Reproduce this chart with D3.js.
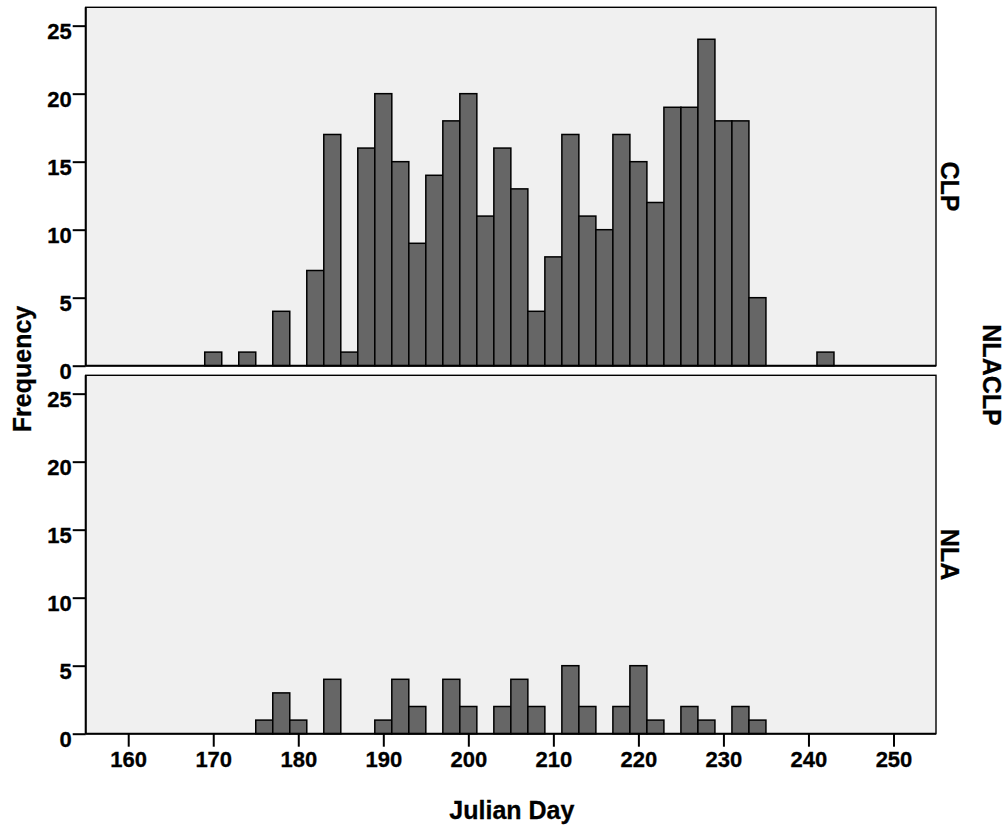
<!DOCTYPE html>
<html><head><meta charset="utf-8">
<script src="https://cdn.jsdelivr.net/npm/d3@7"></script>
<style>
body{margin:0;background:#fff;}
svg{display:block;font-family:"Liberation Sans",Arial,sans-serif;font-weight:bold;}
</style></head>
<body><svg id="c" width="1008" height="829"></svg>
<script>
const binStarts = [169,171,173,175,177,179,181,183,185,187,189,191,193,195,197,199,201,203,205,207,209,211,213,215,217,219,221,223,225,227,229,231,233,235,237,239,241];
const clpCounts = [1,0,1,0,4,0,7,17,1,16,20,15,9,14,18,20,11,16,13,4,8,17,11,10,17,15,12,19,19,24,18,18,5,0,0,0,1];
const nlaCounts = [0,0,0,1,3,1,0,4,0,0,1,4,2,0,4,2,0,2,4,2,0,5,2,0,2,5,1,0,2,1,0,2,1,0,0,0,0];
const binWidth = 2;
const panels = ["CLP","NLA"];
const xTicks = [160,170,180,190,200,210,220,230,240,250];
const yTicks = [0,5,10,15,20,25];
const xTitle = "Julian Day", yTitle = "Frequency", facetTitle = "NLACLP";

const svg = d3.select("#c");
const L = 85.7, R = 936, panelH = 358.4, tops = [7.3, 375.3];
const x = d3.scaleLinear().domain([155,255]).range([L,R]);
const series = [clpCounts, nlaCounts];

panels.forEach((name,i)=>{
  const t = tops[i], b = t + panelH;
  const y = d3.scaleLinear().domain([0,26.35]).range([b,t]);
  const g = svg.append("g");
  g.append("rect").attr("x",L).attr("y",t).attr("width",R-L).attr("height",panelH)
    .attr("fill","#f0f0f0").attr("stroke","#000").attr("stroke-width",1.4);
  const data = binStarts.map((s,k)=>({s, v:series[i][k]})).filter(d=>d.v>0);
  g.selectAll("rect.bar").data(data).join("rect").attr("class","bar")
    .attr("x",d=>x(d.s)).attr("width",d=>x(d.s+binWidth)-x(d.s))
    .attr("y",d=>y(d.v)).attr("height",d=>y(0)-y(d.v))
    .attr("fill","#666666").attr("stroke","#000").attr("stroke-width",1.5);
  const ya = g.append("g").attr("transform",`translate(${L},0)`)
    .call(d3.axisLeft(y).tickValues(yTicks).tickSize(13).tickPadding(1).tickFormat(d3.format("d")));
  ya.select(".domain").attr("stroke-width",2).attr("d",`M0,${t}V${b}`);
  ya.selectAll(".tick line").attr("stroke-width",2);
  ya.selectAll(".tick text").attr("font-size",22).attr("font-weight","bold").attr("dy","0.6em").attr("fill","#000")
    .attr("stroke","#000").attr("stroke-width",0.3);
  g.append("line").attr("x1",L).attr("x2",R).attr("y1",b).attr("y2",b).attr("stroke","#000").attr("stroke-width",2);
  g.append("text").attr("transform",`translate(941,${(t+b)/2}) rotate(90)`)
    .attr("text-anchor","middle").attr("font-size",25).attr("fill","#000")
    .attr("stroke","#000").attr("stroke-width",0.3).text(name);
  if(i===1){
    const xa = g.append("g").attr("transform",`translate(0,${b})`)
      .call(d3.axisBottom(x).tickValues(xTicks).tickSize(13).tickPadding(5).tickFormat(d3.format("d")));
    xa.select(".domain").remove();
    xa.selectAll(".tick line").attr("stroke-width",2);
    xa.selectAll(".tick text").attr("font-size",22).attr("font-weight","bold").attr("fill","#000")
      .attr("stroke","#000").attr("stroke-width",0.3);
  }
});
svg.append("text").attr("x",(L+R)/2 + 1).attr("y",819).attr("text-anchor","middle")
  .attr("font-size",25).attr("fill","#000").attr("stroke","#000").attr("stroke-width",0.3).text(xTitle);
svg.append("text").attr("transform",`translate(31,369) rotate(-90)`).attr("text-anchor","middle")
  .attr("font-size",25).attr("fill","#000").attr("stroke","#000").attr("stroke-width",0.3).text(yTitle);
svg.append("text").attr("transform",`translate(983,375) rotate(90)`).attr("text-anchor","middle")
  .attr("font-size",25).attr("fill","#000").attr("stroke","#000").attr("stroke-width",0.3).text(facetTitle);
</script></body></html>
